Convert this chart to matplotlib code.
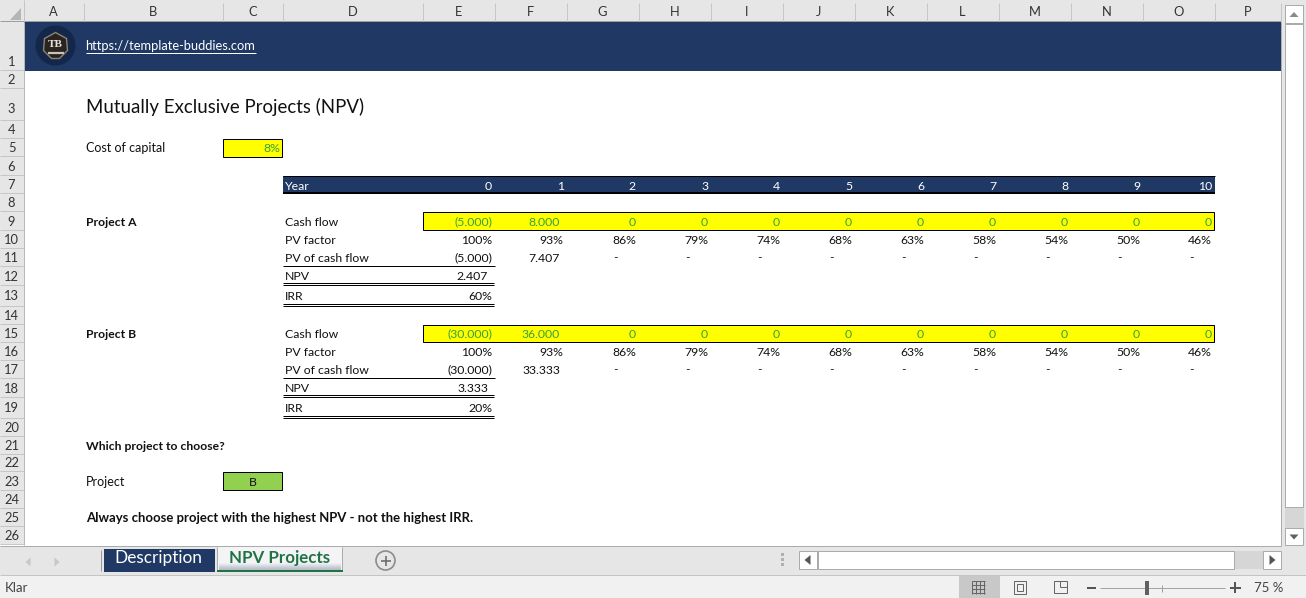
#!/usr/bin/python3
import matplotlib
matplotlib.use("Agg")
import matplotlib.pyplot as plt
from matplotlib.patches import Rectangle, Circle, Polygon

plt.rcParams['font.family'] = ['Lato', 'DejaVu Sans']

# sheet content
columns = list("ABCDEFGHIJKLMNOP")
colEdges = [24, 84, 223, 283, 423, 495, 567, 639, 711, 783, 855, 927, 999, 1071, 1143, 1215, 1281]
rowEdges = [22, 71, 89, 121, 139, 157, 176, 194, 212, 231, 249, 267, 286, 307, 325, 343,
            361, 379, 398, 419, 437, 455, 472, 491, 509, 527, 545]

years = ['0', '1', '2', '3', '4', '5', '6', '7', '8', '9', '10']
factors = ['100%', '93%', '86%', '79%', '74%', '68%', '63%', '58%', '54%', '50%', '46%']

cashA = ['(5.000)', '8.000', '0', '0', '0', '0', '0', '0', '0', '0', '0']
pvA = ['(5.000)', '7.407', '-', '-', '-', '-', '-', '-', '-', '-', '-']
npvA = '2.407'
irrA = '60%'

cashB = ['(30.000)', '36.000', '0', '0', '0', '0', '0', '0', '0', '0', '0']
pvB = ['(30.000)', '33.333', '-', '-', '-', '-', '-', '-', '-', '-', '-']
npvB = '3.333'
irrB = '20%'

navy = '#1F3864'
yellow = '#FFFF00'
inputGreen = '#38A03C'
headerGray = '#E6E6E6'
barGray = '#E6E6E6'
lineGray = '#ABABAB'
FS = 8.8
PX = 0.72  # one pixel in points

fig = plt.figure(figsize=(13.06, 5.98), dpi=100)
ax = fig.add_axes([0, 0, 1, 1])
ax.set_xlim(0.5, 1306.5)
ax.set_ylim(598.5, 0.5)
ax.axis('off')


def box(x0, y0, x1, y1, color, edge='none', lw=0, z=1):
    ax.add_patch(Rectangle((x0, y0), x1 - x0, y1 - y0, facecolor=color, edgecolor=edge, linewidth=lw, zorder=z))


def hline(x0, x1, y, color='black', lw=PX, z=3):
    ax.plot([x0, x1], [y, y], color=color, lw=lw, solid_capstyle='butt', zorder=z)


def vline(x, y0, y1, color='black', lw=PX, z=3):
    ax.plot([x, x], [y0, y1], color=color, lw=lw, solid_capstyle='butt', zorder=z)


def baseline(row):
    # cell text sits on the bottom of the cell, a little higher under double rules
    if row in (5, 7):
        return rowEdges[row] - 4
    return rowEdges[row] - (6 if row in (12, 13, 18, 19) else 5)


def label(x, row, text, **kw):
    kw.setdefault('fontsize', FS)
    kw.setdefault('color', '#111111')
    ax.text(x + 0.5, baseline(row), text, va='baseline', ha=kw.pop('ha', 'left'), zorder=5, **kw)


def rightEdge(col, text):
    # number formats leave a different gap on the right of the cell
    if text == '-':
        return colEdges[col + 1] - 21
    if col == 5 and text.endswith('%'):
        return colEdges[col + 1] - 4
    if col == 4 or text.endswith('%') or text == '0' or col > 5 or len(text) < 3:
        return colEdges[col + 1] - 3
    return colEdges[col + 1] - 7


def numbers(row, values, color='#111111'):
    for i, v in enumerate(values):
        col = 4 + i
        label(rightEdge(col, v), row, v, ha='right', color=color)


# column and row headers
box(0, 0, 1307, 599, '#FFFFFF', z=0)
box(0, 0, 1307, 22, headerGray)
box(0, 0, 24, 545, headerGray)
ax.add_patch(Polygon([[21, 8], [21, 20], [10, 20]], facecolor='#B5B5B5', zorder=2))
hline(0, 1281, 21.5, '#9E9E9E')
vline(24.5, 0, 22, '#C4C4C4')
for i, c in enumerate(columns):
    ax.text((colEdges[i] + colEdges[i + 1]) / 2, 16, c, ha='center', va='baseline', fontsize=9.3, color='#333333', zorder=4)
    vline(colEdges[i + 1], 3, 21, '#C6C6C6')
rowGaps = {3: 7.3, 13: 6, 19: 6}
for i in range(26):
    y = rowEdges[i + 1]
    hline(0, 24, y - 0.5, '#C6C6C6')
    ax.text(12, y - rowGaps.get(i + 1, 4.5), str(i + 1), ha='center', va='baseline', fontsize=9.3, color='#333333', zorder=4)
vline(24.5, 22, 545, '#B8B8B8')

# banner
box(24, 22, 1281, 71, navy)
ax.add_patch(Circle((56, 46), 20, facecolor='#14274A', edgecolor='none', zorder=3))
ax.add_patch(Polygon([[56, 33], [67, 39], [68, 51], [60, 59], [52, 59], [44, 51], [45, 39]],
                     facecolor='#2A2320', edgecolor='#8A8478', linewidth=1.0, zorder=4))
ax.text(56, 45, 'TB', ha='center', va='center', fontsize=8, color='#E8E4DA', fontweight='bold', family='Liberation Serif', zorder=5)
hline(48, 64, 53, '#C8C4B8', 1.6, z=5)
ax.text(86, 50.7, 'https://template-buddies.com', va='baseline', fontsize=9.25, color='white', zorder=5)
hline(86, 256, 53.5, 'white', PX, z=5)

# title and inputs
ax.text(87, 114, 'Mutually Exclusive Projects (NPV)', va='baseline', fontsize=13.4, color='#111111', zorder=5)
label(86, 5, 'Cost of capital', fontsize=9.0)
box(223.5, 139.5, 282.5, 157.5, yellow, 'black', PX, z=2)
label(280, 5, '8%', ha='right', color=inputGreen)

# year header
box(283, 176, 1215, 194, navy, z=2)
hline(283, 1215, 176.5, 'black', PX)
hline(283, 1215, 193.5, 'black', 2 * PX)
label(285, 7, 'Year', color='white')
numbers(7, years, 'white')


def project(first, name, cash, pv, npv, irr):
    label(86, first, name, fontweight='bold', fontsize=8.75)
    label(285, first, 'Cash flow')
    label(285, first + 1, 'PV factor')
    label(285, first + 2, 'PV of cash flow')
    label(285, first + 3, 'NPV')
    label(285, first + 4, 'IRR')
    box(423.5, rowEdges[first - 1] + 0.5, 1214.5, rowEdges[first] - 0.5, yellow, 'black', PX, z=2)
    numbers(first, cash, inputGreen)
    numbers(first + 1, factors)
    numbers(first + 2, pv)
    label(488, first + 3, npv, ha='right')
    label(492, first + 4, irr, ha='right')
    # rules under the subtotal rows
    hline(283, 495, rowEdges[first + 2] - 0.5, 'black', PX)
    for row in (first + 3, first + 4):
        y = rowEdges[row]
        hline(283, 494, y - 2.5, 'black', PX)
        hline(283, 494, y - 0.5, 'black', PX)


project(9, 'Project A', cashA, pvA, npvA, irrA)
project(15, 'Project B', cashB, pvB, npvB, irrB)

# conclusion
label(86, 21, 'Which project to choose?', fontweight='bold', fontsize=8.75)
label(86, 23, 'Project', fontsize=9.0)
box(223.5, 472.5, 282.5, 490.5, '#92D050', 'black', PX, z=2)
label(253, 23, 'B', ha='center')
label(86, 25, 'Always choose project with the highest NPV - not the highest IRR.', fontweight='bold', fontsize=9.45)

# vertical scrollbar
box(1281, 22, 1307, 546, barGray)
box(1281, 0, 1307, 22, barGray)
vline(1281.5, 22, 546, lineGray)
box(1285, 23, 1304, 528, '#D6D6D6', z=2)
box(1285.5, 24, 1303.5, 507.5, 'white', lineGray, PX, z=3)
box(1285.5, 5.5, 1303.5, 23.5, 'white', lineGray, PX, z=3)
box(1285.5, 528.5, 1303.5, 545.5, 'white', lineGray, PX, z=3)
ax.add_patch(Polygon([[1290, 17.5], [1299, 17.5], [1294.5, 12.5]], facecolor='#8A8A8A', zorder=4))
ax.add_patch(Polygon([[1290, 535], [1299, 535], [1294.5, 540]], facecolor='#606060', zorder=4))

# sheet tabs strip
box(0, 546, 1307, 575, barGray)
hline(0, 1281, 546.5, lineGray)
ax.add_patch(Polygon([[31, 558], [26, 562.5], [31, 567]], facecolor='#C8C8C8', zorder=3))
ax.add_patch(Polygon([[55, 558], [60, 562.5], [55, 567]], facecolor='#C8C8C8', zorder=3))
vline(101.5, 550, 571, '#9A9A9A')
box(104, 549, 215, 572, navy, z=2)
ax.text(159, 563, 'Description', ha='center', va='baseline', fontsize=12.4, color='white', zorder=5)
box(218, 547, 342, 570, '#F4F4F6', z=2)
# tab shading fades towards the bottom
tabShades = ['#EDEEF1', '#E4E6EB', '#DADDE4', '#D0D4DC', '#C6CAD5', '#BDC2CE', '#B6BCC9']
for i, shade in enumerate(tabShades):
    box(219, 563 + i, 341, 564 + i, shade, z=2)
vline(217.5, 547, 571, lineGray)
vline(342.5, 547, 571, lineGray)
hline(217, 343, 571, '#217346', 2 * PX)
ax.text(280.5, 563, 'NPV Projects', ha='center', va='baseline', fontsize=12.2, color='#217346', fontweight='bold', zorder=5)
ax.add_patch(Circle((386, 561), 9.5, facecolor='none', edgecolor='#8C8C8C', linewidth=1.2, zorder=3))
hline(381, 391, 561, '#666666', 1.1)
vline(386, 556, 566, '#666666', 1.1)

# horizontal scrollbar
for y in (555, 560, 565):
    box(781, y - 1.5, 784, y + 1.5, '#B0B0B0', z=3)
box(800, 551, 1264, 569, '#D6D6D6', z=2)
box(799.5, 551.5, 817.5, 569.5, 'white', lineGray, PX, z=3)
box(818.5, 551.5, 1234.5, 569.5, 'white', lineGray, PX, z=3)
box(1263.5, 551.5, 1281.5, 569.5, 'white', lineGray, PX, z=3)
ax.add_patch(Polygon([[811, 555.5], [811, 565.5], [805, 560.5]], facecolor='#555555', zorder=4))
ax.add_patch(Polygon([[1270, 555.5], [1270, 565.5], [1276, 560.5]], facecolor='#555555', zorder=4))

# status bar
box(0, 575, 1307, 599, '#F1F1F1')
hline(0, 1307, 575.5, '#C4C4C4')
ax.text(5, 592.7, 'Klar', va='baseline', fontsize=9.5, color='#444444', zorder=5)
box(959, 576, 1000, 599, '#C8C8C8', z=2)
for i in range(4):
    hline(972, 985, 581.5 + i * 4, '#666666', PX, z=4)
    vline(972.5 + i * 4, 581, 594, '#666666', PX, z=4)
box(1014.5, 581.5, 1026.5, 594.5, 'none', '#666666', PX, z=4)
box(1017.5, 584.5, 1023.5, 591.5, 'none', '#666666', PX, z=4)
box(1054.5, 581.5, 1067.5, 593.5, 'none', '#666666', PX, z=4)
vline(1060.5, 581, 587, '#666666', PX, z=5)
hline(1060.5, 1067, 587.5, '#666666', PX, z=5)
hline(1087, 1096, 588, '#555555', 2 * PX)
hline(1100, 1225, 588.5, '#A5A5A5', PX)
box(1145, 581, 1149, 595, '#606060', z=4)
vline(1162.5, 585, 592, '#A0A0A0', PX)
hline(1230, 1241, 588, '#555555', 2 * PX)
vline(1235.5, 582.5, 593.5, '#555555', 2 * PX)
ax.text(1284, 592.7, '75 %', ha='right', va='baseline', fontsize=9.5, color='#444444', zorder=5)

plt.savefig('out.png', dpi=100)
